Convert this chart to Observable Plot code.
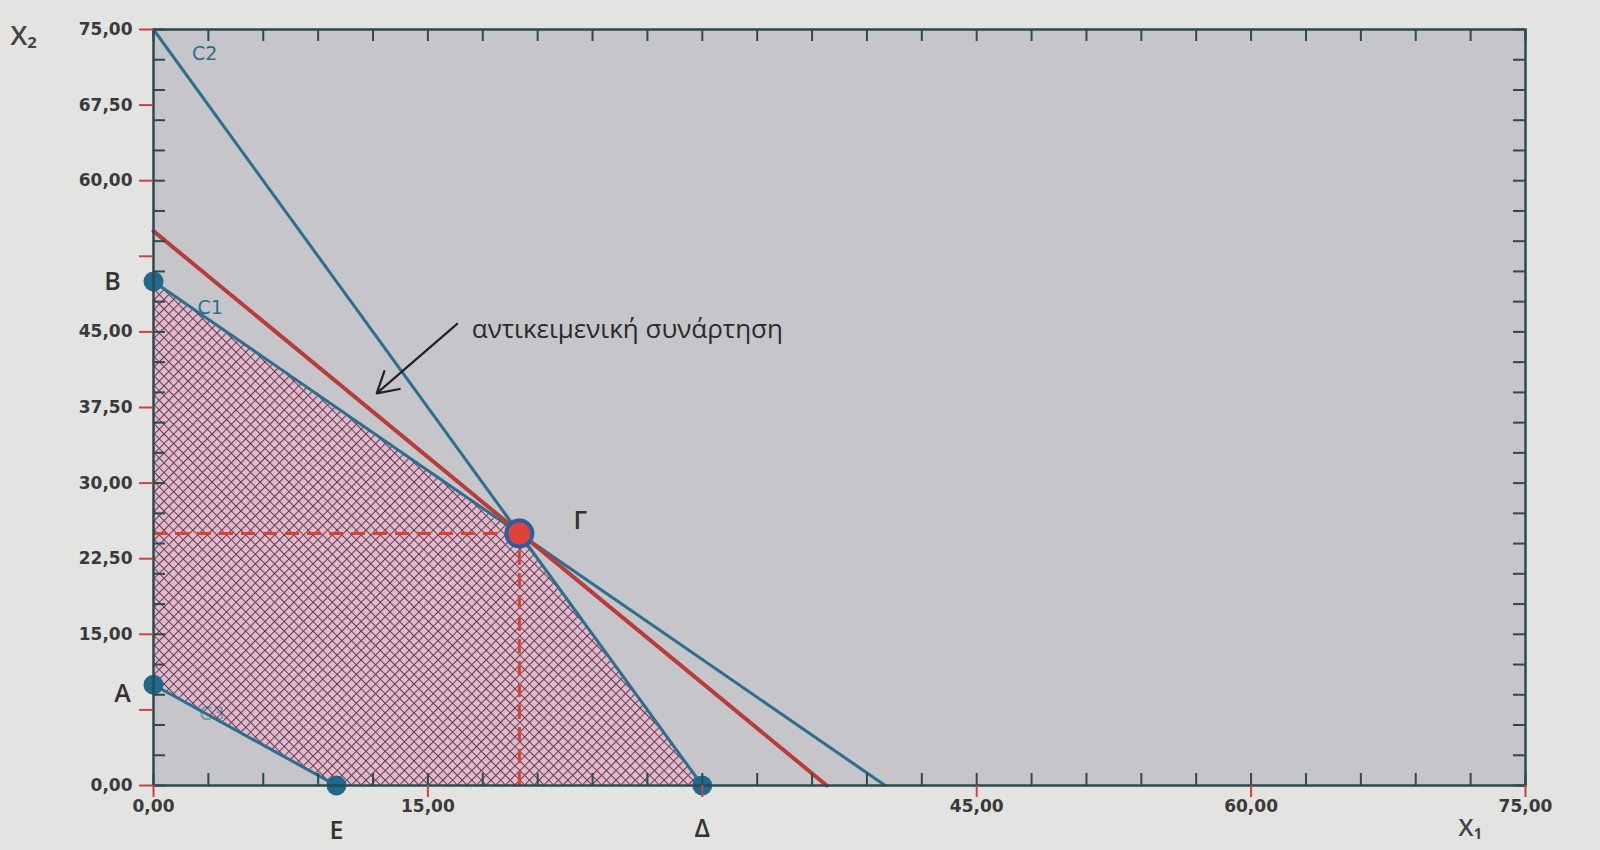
<!DOCTYPE html>
<html>
<head>
<meta charset="utf-8">
<script src="https://cdn.jsdelivr.net/npm/d3@7"></script>
<script src="https://cdn.jsdelivr.net/npm/@observablehq/plot@0.6"></script>
<style>
html, body { margin: 0; padding: 0; background: #e3e3e1; }
#chart { width: 1600px; height: 850px; overflow: hidden; }
</style>
</head>
<body>
<div id="chart"></div>
<script>
// ---- data ----
const vertexNames = ["A", "B", "Γ", "Δ", "E"];
const vertexX1 = [0, 0, 20, 30, 10];
const vertexX2 = [10, 50, 25, 0, 0];

const constraintNames = ["C1", "C2", "C3"];
const constraintStartX1 = [0, 0, 0];
const constraintStartX2 = [50, 75, 10];
const constraintEndX1 = [40, 30, 10];
const constraintEndX2 = [0, 0, 0];
const constraintLabelX1 = [2.4, 2.1, 2.5];
const constraintLabelX2 = [47.4, 72.6, 7.1];

const objectiveX1 = [0, 36.8];
const objectiveX2 = [55, 0];
const objectiveLabel = "αντικειμενική συνάρτηση";
const objectiveLabelAt = [17.4, 45.2];
const arrowFrom = [16.6, 45.8];
const arrowTo = [12.2, 38.9];

const xTicks = [0, 15, 30, 45, 60, 75];
const xHiddenLabels = [30];
const yTicks = [0, 7.5, 15, 22.5, 30, 37.5, 45, 52.5, 60, 67.5, 75];
const yHiddenLabels = [7.5, 52.5];
const minorTicks = [0, 3, 6, 9, 12, 15, 18, 21, 24, 27, 30, 33, 36, 39, 42, 45, 48, 51, 54, 57, 60, 63, 66, 69, 72, 75];

// ---- layout ----
const W = 1600, H = 850, ML = 153, MR = 75, MT = 29, MB = 65;
const xDomain = [0, 75], yDomain = [0, 75];
// pixel lengths expressed in data units (for tick rules)
const pxX = (xDomain[1] - xDomain[0]) / (W - ML - MR);
const pxY = (yDomain[1] - yDomain[0]) / (H - MT - MB);

// ---- tables built from the arrays ----
const vertices = vertexNames.map((n, i) => ({name: n, x1: vertexX1[i], x2: vertexX2[i]}));
const constraints = constraintNames.map((n, i) => ({
  name: n, x1a: constraintStartX1[i], x2a: constraintStartX2[i],
  x1b: constraintEndX1[i], x2b: constraintEndX2[i],
  lx: constraintLabelX1[i], ly: constraintLabelX2[i]
}));
const objective = objectiveX1.map((v, i) => ({x1: v, x2: objectiveX2[i]}));
const optimum = vertices.filter(d => d.name === "Γ");
const corners = vertices.filter(d => d.name !== "Γ");
const byName = n => vertices.filter(d => d.name === n);

const fmt = hidden => d => hidden.includes(d) ? "" : d.toFixed(2).replace(".", ",");

const teal = "#2b6f8f";
const red = "#b73d3a";
const frameColor = "#2c4a52";
const tickRed = "#c8453f";
const hatchBase = "#dbbdcc";
const labelFont = "'Open Sans', 'DejaVu Sans', sans-serif";
const tickFont = "'DejaVu Sans', sans-serif";

const vertexLabel = (n, dx, dy) => Plot.text(byName(n), {
  x: "x1", y: "x2", text: "name", dx, dy,
  fontSize: 25, fontWeight: 600, fontFamily: labelFont, fill: "#333"
});

const minorLen = 12, majorLenY = 14, majorLenX = 12;
const lo = xDomain[0], hi = xDomain[1], ylo = yDomain[0], yhi = yDomain[1];

const chart = Plot.plot({
  width: W,
  height: H,
  marginLeft: ML,
  marginRight: MR,
  marginTop: MT,
  marginBottom: MB,
  x: {domain: xDomain, axis: null},
  y: {domain: yDomain, axis: null},
  style: {background: "transparent", fontFamily: tickFont, overflow: "visible"},
  marks: [
    Plot.frame({fill: "#c6c5c9", stroke: "none"}),
    // feasible region (fill replaced by hatch pattern after render)
    Plot.line(vertices, {x: "x1", y: "x2", curve: "linear-closed", fill: hatchBase, stroke: "none"}),
    // dashed guides to the optimum
    Plot.ruleY(optimum, {y: "x2", x1: d => 0, x2: "x1", stroke: "#d8403a", strokeWidth: 3, strokeDasharray: "14,8"}),
    Plot.ruleX(optimum, {x: "x1", y1: d => 0, y2: "x2", stroke: "#d8403a", strokeWidth: 3, strokeDasharray: "14,8"}),
    // constraint lines
    Plot.link(constraints, {x1: "x1a", y1: "x2a", x2: "x1b", y2: "x2b", stroke: teal, strokeWidth: 3}),
    // objective function
    Plot.line(objective, {x: "x1", y: "x2", stroke: red, strokeWidth: 4}),
    // constraint labels
    Plot.text(constraints, {x: "lx", y: "ly", text: "name", textAnchor: "start", fontSize: 19,
      fill: teal, fillOpacity: d => d.name === "C3" ? 0.55 : 1}),
    // vertices
    Plot.dot(corners, {x: "x1", y: "x2", r: 10, fill: "#1f6a8c", stroke: "none"}),
    Plot.dot(optimum, {x: "x1", y: "x2", r: 13, fill: "#e0423b", stroke: "#2d5d9e", strokeWidth: 4}),
    vertexLabel("B", -41, 0),
    vertexLabel("A", -31, 9),
    vertexLabel("E", 0, 45),
    vertexLabel("Δ", 0, 43),
    vertexLabel("Γ", 61, -13),
    // annotation
    Plot.arrow([{a: arrowFrom, b: arrowTo}], {
      x1: d => d.a[0], y1: d => d.a[1], x2: d => d.b[0], y2: d => d.b[1],
      stroke: "#222", strokeWidth: 2.2, headLength: 16
    }),
    Plot.text([objectiveLabel], {x: d => objectiveLabelAt[0], y: d => objectiveLabelAt[1], text: d => d,
      textAnchor: "start", fontSize: 26, fontFamily: labelFont, fill: "#2a2a2a"}),
    // frame
    Plot.frame({stroke: frameColor, strokeWidth: 2.5}),
    // inside minor ticks on four sides
    Plot.ruleY(minorTicks, {y: d => d, x1: d => lo, x2: d => lo + minorLen * pxX, stroke: frameColor, strokeWidth: 2}),
    Plot.ruleY(minorTicks, {y: d => d, x1: d => hi - minorLen * pxX, x2: d => hi, stroke: frameColor, strokeWidth: 2}),
    Plot.ruleX(minorTicks, {x: d => d, y1: d => yhi - minorLen * pxY, y2: d => yhi, stroke: frameColor, strokeWidth: 2}),
    Plot.ruleX(minorTicks, {x: d => d, y1: d => ylo, y2: d => ylo + minorLen * pxY, stroke: frameColor, strokeWidth: 2}),
    // outer major ticks
    Plot.ruleY(yTicks, {y: d => d, x1: d => lo - majorLenY * pxX, x2: d => lo, stroke: tickRed, strokeWidth: 2}),
    Plot.ruleX(xTicks, {x: d => d, y1: d => ylo - majorLenX * pxY, y2: d => ylo, stroke: tickRed, strokeWidth: 2}),
    // tick labels
    Plot.text(yTicks, {x: d => lo, y: d => d, text: fmt(yHiddenLabels), dx: -21, textAnchor: "end",
      fontSize: 17, fontWeight: 600, fontFamily: tickFont, fill: "#3a3a3a"}),
    Plot.text(xTicks, {x: d => d, y: d => ylo, text: fmt(xHiddenLabels), dy: 21,
      fontSize: 17, fontWeight: 600, fontFamily: tickFont, fill: "#3a3a3a"}),
    // axis titles
    Plot.text(["X₂"], {frameAnchor: "top-left", text: d => d, dx: -143, dy: -4, textAnchor: "start",
      fontSize: 27, fontFamily: labelFont, fontWeight: 600, fill: "#444"}),
    Plot.text(["X₁"], {frameAnchor: "bottom-right", text: d => d, dx: -67, dy: 50, textAnchor: "start",
      lineAnchor: "bottom", fontSize: 24, fontFamily: labelFont, fontWeight: 600, fill: "#444"})
  ]
});

// hatch pattern for the feasible region
const ns = "http://www.w3.org/2000/svg";
const defs = document.createElementNS(ns, "defs");
defs.innerHTML = `
  <pattern id="hatch" patternUnits="userSpaceOnUse" width="6.8" height="6.8" patternTransform="rotate(45)">
    <rect width="6.8" height="6.8" fill="${hatchBase}"></rect>
    <path d="M0,0H6.8M0,0V6.8" stroke="#723650" stroke-width="2.1" fill="none"></path>
  </pattern>`;
const svg = chart.tagName.toLowerCase() === "svg" ? chart : chart.querySelector("svg");
svg.insertBefore(defs, svg.firstChild);
svg.querySelectorAll("[fill]").forEach(el => {
  if ((el.getAttribute("fill") || "").toLowerCase() === hatchBase && el.tagName.toLowerCase() !== "rect") {
    el.setAttribute("fill", "url(#hatch)");
  }
});

document.getElementById("chart").appendChild(chart);
</script>
</body>
</html>
